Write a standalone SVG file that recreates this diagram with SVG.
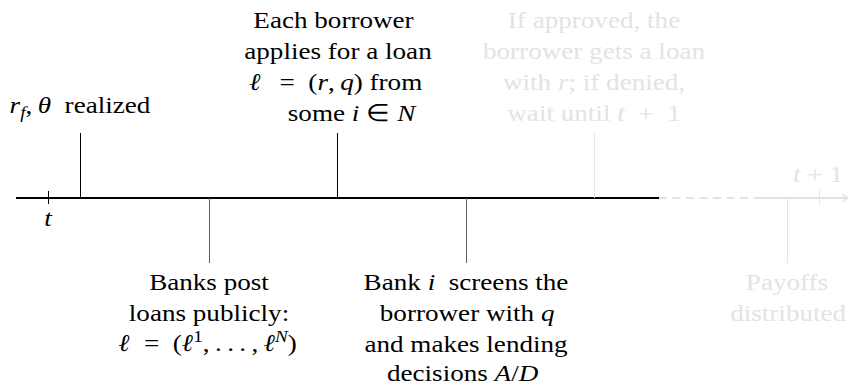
<svg xmlns="http://www.w3.org/2000/svg" width="850" height="386" viewBox="0 0 850 386" font-family="'Liberation Serif', 'Times New Roman', serif">
<defs>
<style>
text{font-family:'Liberation Serif','Times New Roman',serif;font-size:24px;fill:#000;text-anchor:middle}
.m{font-style:italic}
.b{font-weight:bold;font-style:italic}
.lt text,text.lt{fill:#e3e3e3}
.lead{stroke:#000;stroke-width:1;fill:none}
.leadg{stroke:#5f5f5f;stroke-width:1;fill:none}
.leadl{stroke:#e6e6e6;stroke-width:1;fill:none}
</style>
<marker id="arr" viewBox="-8 -6 10 12" markerWidth="10" markerHeight="12" refX="0" refY="0" orient="auto" markerUnits="userSpaceOnUse">
<path d="M-6,-4 L0,0 L-6,4" fill="none" stroke="#e3e3e3" stroke-width="1.5"/>
</marker>
</defs>
<rect width="850" height="386" fill="#fff"/>
<g id="connectors">
<line x1="16" y1="198" x2="659" y2="198" stroke="#000" stroke-width="2"/>
<line x1="659" y1="198" x2="754" y2="198" stroke="#e3e3e3" stroke-width="2" stroke-dasharray="8 5.5"/>
<line x1="754" y1="198" x2="848" y2="198" stroke="#e3e3e3" stroke-width="2" marker-end="url(#arr)"/>
<line class="lead" x1="48.5" y1="191" x2="48.5" y2="204"/>
<line class="leadl" x1="819.5" y1="190" x2="819.5" y2="205"/>
<line class="lead" x1="80.5" y1="133" x2="80.5" y2="198"/>
<line class="lead" x1="337.5" y1="133" x2="337.5" y2="198"/>
<line class="leadl" x1="594.5" y1="133" x2="594.5" y2="198"/>
<line class="leadg" x1="209.5" y1="198" x2="209.5" y2="263"/>
<line class="leadg" x1="466.5" y1="198" x2="466.5" y2="263"/>
<line class="leadl" x1="787.5" y1="198" x2="787.5" y2="263"/>
</g>
<g id="tick-t" transform="translate(48 0) scale(1.13 1)">
<text class="m" x="0" y="226">t</text>
</g>
<g id="tick-t1" class="lt" transform="translate(818 0) scale(1.13 1)">
<text x="0" y="182"><tspan class="m">t</tspan>&#x2005;+&#x2005;1</text>
</g>
<g id="n-realized" transform="translate(80 0) scale(1.13 1)">
<text x="0" y="113"><tspan class="m">r</tspan><tspan class="m" font-size="17" dy="5">f</tspan><tspan dy="-5">,&#x2009;</tspan><tspan class="m">θ</tspan>&#x2002;realized</text>
</g>
<g id="n-apply" transform="translate(338 0) scale(1.13 1)">
<text x="-4" y="28">Each borrower</text>
<text x="0" y="59">applies for a loan</text>
<text x="-2" y="90"><tspan class="m">ℓ</tspan>&#x2002;&#x2009;=&#x2002;(<tspan class="m">r</tspan>,&#x2009;<tspan class="m">q</tspan>) from</text>
<text x="12" y="121">some <tspan class="m">i</tspan>&#x2005;∈&#x2005;<tspan class="m">N</tspan></text>
</g>
<g id="n-approved" class="lt" transform="translate(594 0) scale(1.13 1)">
<text x="0" y="28">If approved, the</text>
<text x="0" y="59">borrower gets a loan</text>
<text x="0" y="90">with <tspan class="m">r</tspan>; if denied,</text>
<text x="0" y="121">wait until <tspan class="m">t</tspan>&#x2002;+&#x2002;1</text>
</g>
<g id="n-post" transform="translate(209 0) scale(1.13 1)">
<text x="0" y="290">Banks post</text>
<text x="0" y="321">loans publicly:</text>
<text x="-1" y="351"><tspan class="b">ℓ</tspan>&#x2002;=&#x2002;(<tspan class="m">ℓ</tspan><tspan font-size="17" dy="-9">1</tspan><tspan dy="9">,&#x2009;.&#x2009;.&#x2009;.&#x2009;,&#x2009;</tspan><tspan class="m">ℓ</tspan><tspan class="m" font-size="17" dy="-9">N</tspan><tspan dy="9">)</tspan></text>
</g>
<g id="n-screen" transform="translate(466 0) scale(1.13 1)">
<text x="0" y="290">Bank <tspan class="m">i</tspan>&#x2002;screens the</text>
<text x="1" y="321">borrower with <tspan class="m">q</tspan></text>
<text x="0" y="352">and makes lending</text>
<text x="-3" y="381">decisions <tspan class="m">A</tspan>/<tspan class="m">D</tspan></text>
</g>
<g id="n-payoffs" class="lt" transform="translate(787 0) scale(1.13 1)">
<text x="0" y="290">Payoffs</text>
<text x="1" y="321">distributed</text>
</g>
</svg>
